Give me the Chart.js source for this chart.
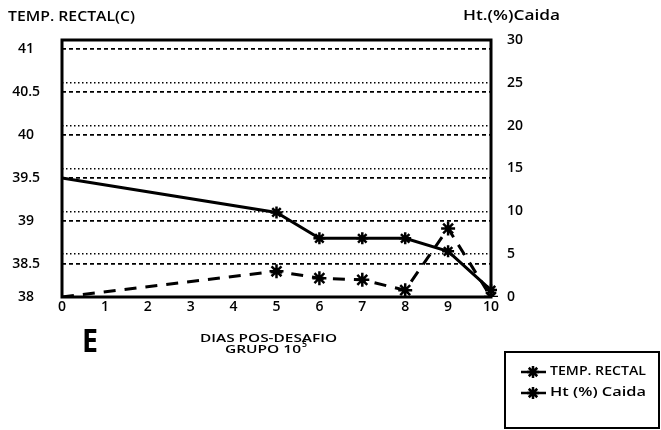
<!DOCTYPE html>
<html><head><meta charset="utf-8">
<script src="https://cdn.jsdelivr.net/npm/chart.js@4/dist/chart.umd.min.js"></script>
<style>html,body{margin:0;padding:0;background:#fff}#wrap{width:661px;height:430px}</style>
</head><body><div id="wrap"><canvas id="c" width="661" height="430"></canvas></div>
<script>
// ---- data ----
const days = ['0','1','2','3','4','5','6','7','8','9','10'];
const tempRectal = [39.5, null, null, null, null, 39.1, 38.8, 38.8, 38.8, 38.65, 38.2];
const htCaida    = [0,    null, null, null, null, 3,    2.2,  2,    0.8,  8,     0];
const tempTicks = [38, 38.5, 39, 39.5, 40, 40.5, 41];
const htTicks = [0, 5, 10, 15, 20, 25, 30];
const seriesNames = ['TEMP. RECTAL', 'Ht (%) Caida'];
const leftTitle = 'TEMP. RECTAL(C)';
const rightTitle = 'Ht.(%)Caida';
const xTitleLine1 = 'DIAS POS-DESAFIO';
const xTitleLine2 = 'GRUPO 10';
const xTitleSup = '5';
const panelLetter = 'E';

const FONT = '"Open Sans", Lato, sans-serif';
const TEMP_MIN = 38.12, TEMP_MAX = 41.1;

function fitText(ctx, text, x, y, w, font) {
  ctx.save();
  ctx.font = font;
  ctx.textAlign = 'left';
  ctx.textBaseline = 'middle';
  const m = ctx.measureText(text).width;
  ctx.translate(x, y);
  ctx.scale(w / m, 1);
  ctx.fillStyle = '#000';
  ctx.fillText(text, 0, 0);
  ctx.restore();
}
function star(ctx, x, y, r, lw) {
  ctx.save();
  ctx.strokeStyle = '#000'; ctx.lineWidth = lw; ctx.setLineDash([]);
  ctx.beginPath();
  ctx.moveTo(x - r, y); ctx.lineTo(x + r, y);
  ctx.moveTo(x, y - r); ctx.lineTo(x, y + r);
  const d = r * Math.SQRT1_2;
  ctx.moveTo(x - d, y - d); ctx.lineTo(x + d, y + d);
  ctx.moveTo(x - d, y + d); ctx.lineTo(x + d, y - d);
  ctx.stroke();
  ctx.restore();
}

const decor = {
  id: 'decor',
  beforeDatasetsDraw(chart) {
    const {ctx, chartArea: a} = chart;
    ctx.save();
    ctx.strokeStyle = '#000'; ctx.lineWidth = 3;
    ctx.strokeRect(a.left, a.top, a.right - a.left, a.bottom - a.top);
    ctx.restore();
  },
  afterDraw(chart) {
    const ctx = chart.ctx;
    fitText(ctx, leftTitle, 8, 17.5, 127, '600 14px ' + FONT);
    fitText(ctx, rightTitle, 463, 16.5, 97, '600 14px ' + FONT);
    fitText(ctx, panelLetter, 82, 343, 16, 'bold 32px ' + FONT);
    fitText(ctx, xTitleLine1, 200, 338.5, 137, '600 11px ' + FONT);
    fitText(ctx, xTitleLine2, 225, 349.5, 76, '600 11px ' + FONT);
    fitText(ctx, xTitleSup, 302, 345, 5, '600 8px ' + FONT);
    // legend box
    ctx.save();
    ctx.strokeStyle = '#000'; ctx.lineWidth = 2;
    ctx.strokeRect(505, 352, 154, 76);
    ctx.restore();
    const ys = [372, 393];
    chart.data.datasets.forEach((ds, i) => {
      ctx.save();
      ctx.strokeStyle = '#000'; ctx.lineWidth = 2.5;
      ctx.beginPath(); ctx.moveTo(521, ys[i]); ctx.lineTo(546, ys[i]); ctx.stroke();
      ctx.restore();
      star(ctx, 533, ys[i], 6, 2.5);
      fitText(ctx, seriesNames[i], 550, ys[i], 96, '600 12px ' + FONT);
    });
  }
};

const tickFont = {family: FONT, size: 14, weight: '600'};

new Chart(document.getElementById('c'), {
  type: 'line',
  data: {
    labels: days,
    datasets: [
      {
        label: seriesNames[0], data: tempRectal, yAxisID: 'y',
        borderColor: '#000', backgroundColor: '#000', borderWidth: 3,
        pointStyle: 'star', pointBorderWidth: 2.5, pointBorderColor: '#000',
        pointRadius: c => c.dataIndex === 0 ? 0 : 6,
        spanGaps: true, tension: 0
      },
      {
        label: seriesNames[1], data: htCaida, yAxisID: 'y1',
        borderColor: '#000', backgroundColor: '#000', borderWidth: 3,
        borderDash: [12, 9],
        pointStyle: 'star', pointBorderWidth: 2.5, pointBorderColor: '#000',
        pointRadius: c => c.dataIndex === 0 ? 0 : 7,
        spanGaps: true, tension: 0
      }
    ]
  },
  options: {
    responsive: false, animation: false, devicePixelRatio: 1,
    layout: {padding: {top: 40, left: 0, right: 0, bottom: 0}},
    plugins: {legend: {display: false}, tooltip: {enabled: false}},
    scales: {
      x: {
        offset: false,
        grid: {display: false, drawTicks: false},
        border: {display: false},
        ticks: {color: '#000', font: tickFont, padding: 2, maxRotation: 0, autoSkip: false},
        afterFit: s => { s.height = 133; }
      },
      y: {
        position: 'left', min: TEMP_MIN, max: TEMP_MAX,
        afterBuildTicks: s => { s.ticks = tempTicks.map(v => ({value: v === 38 ? TEMP_MIN : v})); },
        grid: {color: '#000', lineWidth: 1.8, drawTicks: false},
        border: {display: false, dash: [4, 3]},
        ticks: {
          color: '#000', font: tickFont, crossAlign: 'center', padding: 22,
          callback: v => v <= TEMP_MIN + 0.01 ? '38' : String(v)
        },
        afterFit: s => { s.width = 62; }
      },
      y1: {
        position: 'right', min: 0, max: 30,
        afterBuildTicks: s => { s.ticks = htTicks.map(v => ({value: v})); },
        grid: {color: '#000', lineWidth: 1.5, drawTicks: false},
        border: {display: false, dash: [1.5, 2.5]},
        ticks: {color: '#000', font: tickFont, padding: 16},
        afterFit: s => { s.width = 170; }
      }
    }
  },
  plugins: [decor]
});
</script>
</body></html>
